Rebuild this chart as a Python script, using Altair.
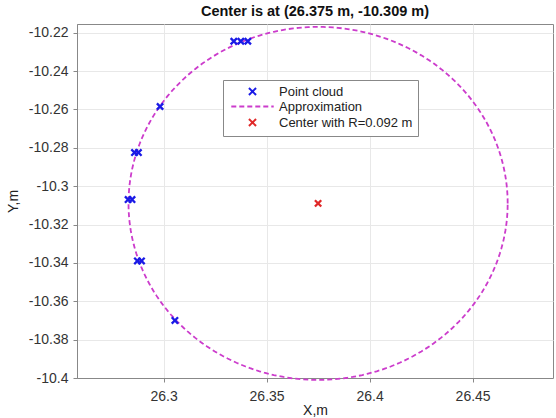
import altair as alt
import numpy as np
import pandas as pd

# Point cloud
cloud_x = [26.3341, 26.3375, 26.3409, 26.2983, 26.2859, 26.2878, 26.2828, 26.2847, 26.2873, 26.2893, 26.3055]
cloud_y = [-10.2245, -10.2245, -10.2245, -10.2585, -10.2825, -10.2825, -10.3070, -10.3070, -10.3390, -10.3390, -10.3700]

# Fitted circle
center_x = 26.375
center_y = -10.309
radius = 0.092

series = ["Point cloud", "Approximation", "Center with R=0.092 m"]
colors = ["#1a1ae6", "#cc3ccc", "#e02828"]

x_ticks = [26.3, 26.35, 26.4, 26.45]
y_ticks = [-10.4, -10.38, -10.36, -10.34, -10.32, -10.3, -10.28, -10.26, -10.24, -10.22]

xpath = "M-1,-1L1,1M-1,1L1,-1"
linepath = "M-6,0L6,0"

cloud = pd.DataFrame({"x": cloud_x, "y": cloud_y, "s": series[0]})
center = pd.DataFrame({"x": [center_x], "y": [center_y], "s": [series[2]]})
t = np.linspace(0, 2 * np.pi, 241)
circle = pd.DataFrame({"x": center_x + radius * np.cos(t),
                       "y": center_y + radius * np.sin(t),
                       "o": np.arange(len(t)), "s": series[1]})

fmt = "replace(format(datum.value, '.2~f'), '\u2212', '-')"
xs = alt.Scale(domain=[26.258, 26.489], nice=False, zero=False)
ys = alt.Scale(domain=[-10.4, -10.2155], nice=False, zero=False)
X = alt.X("x:Q", scale=xs, title="X,m",
          axis=alt.Axis(values=x_ticks, labelExpr=fmt, labelPadding=7, titlePadding=0))
Y = alt.Y("y:Q", scale=ys, title="Y,m",
          axis=alt.Axis(values=y_ticks, labelExpr=fmt, labelPadding=5, titlePadding=8))

legend = alt.Legend(title=None, orient="none", legendX=146, legendY=56,
                    strokeColor="#888888", fillColor="white", padding=5,
                    labelFontSize=13, labelColor="#222222", rowPadding=0,
                    symbolStrokeWidth=2, symbolSize=50, symbolOffset=18, labelOffset=20)
C = alt.Color("s:N", scale=alt.Scale(domain=series, range=colors), legend=legend, sort=series)
S = alt.Shape("s:N", scale=alt.Scale(domain=series, range=[xpath, linepath, xpath]), legend=legend, sort=series)
D = alt.StrokeDash("s:N", scale=alt.Scale(domain=series, range=[[1, 0], [5, 3], [1, 0]]), legend=legend, sort=series)

circ = alt.Chart(circle).mark_line(strokeWidth=1.8).encode(x=X, y=Y, order="o:Q", color=C, strokeDash=D)
pts = alt.Chart(cloud).mark_point(filled=False, strokeWidth=2.3, opacity=1, size=40).encode(
    x=X, y=Y, color=C, shape=S)
cen = alt.Chart(center).mark_point(filled=False, strokeWidth=2.3, opacity=1, size=40).encode(
    x=X, y=Y, color=C, shape=S)

chart = alt.layer(circ, pts, cen).properties(
    width=476, height=354,
    title=alt.Title("Center is at (26.375 m, -10.309 m)", fontSize=14.5, fontWeight="bold",
                    color="#111111", offset=4, anchor="middle", frame="group"),
    autosize="none",
    padding={"left": 77, "top": 24, "right": 3, "bottom": 40},
).configure(font="Liberation Sans").configure_axis(
    labelFontSize=14, labelColor="#333333", titleFontSize=14, titleFontWeight="normal",
    titleColor="#222222", gridColor="#e8e8e8", domainColor="#888888", tickColor="#888888",
    tickSize=4,
).configure_view(stroke="#888888")

chart.save("out.html", embed_options={"renderer": "svg", "actions": False})
